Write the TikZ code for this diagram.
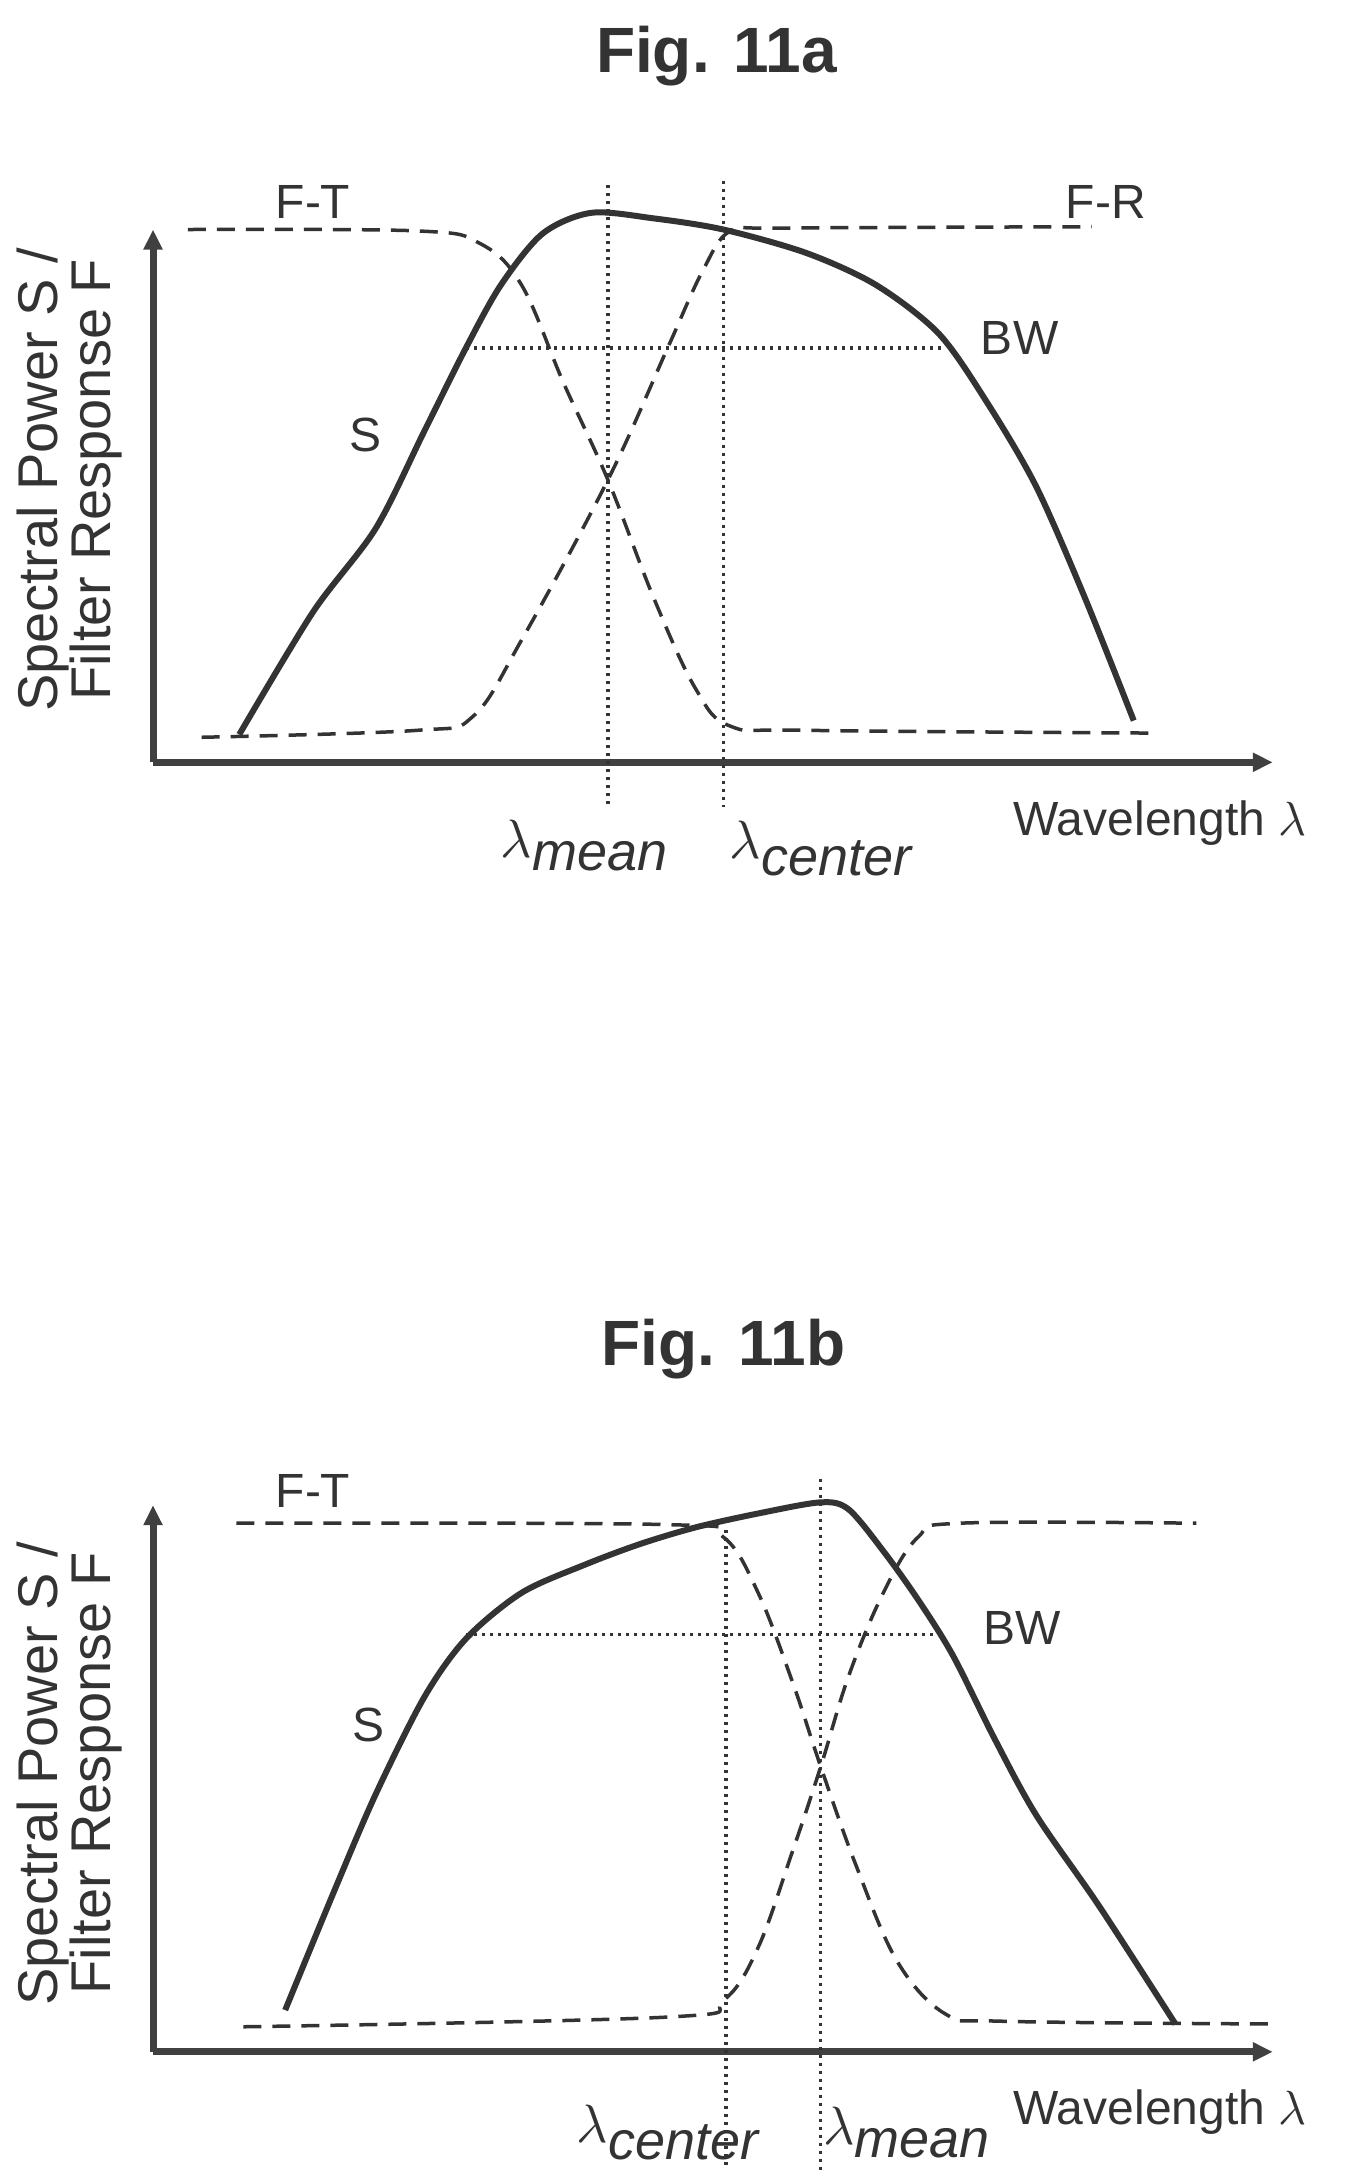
\documentclass[tikz,border=0pt]{standalone}
\usepackage{fontspec}
\usepackage{unicode-math}
\setmainfont{Liberation Sans}
\setmathfont{Latin Modern Math}
\usetikzlibrary{arrows.meta}
\begin{document}
\begin{tikzpicture}[x=1.391pt,y=-1.391pt,
  ax/.style={line width=7pt,color=black!75,-{Triangle[length=20pt,width=18pt]}},
  scurve/.style={line width=6pt,color=black!80,line join=round},
  fdash/.style={line width=3.5pt,color=black!80,dash pattern=on 18pt off 11pt},
  fdot/.style={line width=3.5pt,color=black!80,dash pattern=on 3pt off 5pt},
  lbl/.style={font=\fontsize{48}{50}\selectfont,color=black!80},
  ttl/.style={font=\bfseries\fontsize{64}{66}\selectfont,color=black!80},
  ylbl/.style={font=\fontsize{56}{50}\selectfont,color=black!80,rotate=90,align=center},
  mlbl/.style={font=\fontsize{54}{60}\selectfont,color=black!80}]
\newcommand{\lsub}[1]{$\lambda_{\textstyle\mathit{#1}}$}
\useasboundingbox (0,0) rectangle (970,1565);
% ---------- Fig 11a
\node[ttl] (t1) at (515,40) {Fig. 11a};
\coordinate (o1) at (110,548);
\coordinate (y1) at (110,165);
\coordinate (x1) at (915,548);
\draw[ax] (o1) -- (y1);
\draw[ax] (o1) -- (x1);
\draw[fdash] plot[smooth,tension=0.6] coordinates {(135,165) (300,166) (345,175) (375,205) (405,275) (437,345) (470,430) (500,495) (525,522) (580,525) (830,527)};
\draw[fdash] plot[smooth,tension=0.6] coordinates {(145,530) (300,525) (340,515) (375,460) (437,345) (480,250) (505,195) (525,166) (560,164) (785,163)};
\draw[scurve] plot[smooth,tension=0.5] coordinates {(172,528) (225,440) (270,380) (305,310) (335,250) (360,205) (390,168) (425,153) (470,157) (520,165) (580,182) (630,205) (675,240) (710,290) (745,350) (780,430) (815,518)};
\draw[fdot] (335,250) -- (680,250);
\draw[fdot] (437,133) -- (437,580);
\draw[fdot] (520,130) -- (520,580);
\node[lbl] (ft1) at (225,145) {F-T};
\node[lbl] (fr1) at (795,145) {F-R};
\node[lbl] (bw1) at (733,243) {BW};
\node[lbl] (s1) at (263,313) {S};
\node[lbl,anchor=west] (w1) at (726,592) {Wavelength $\lambda$};
\node[mlbl] (lm1) at (420,608) {\lsub{mean}};
\node[mlbl] (lc1) at (590,610) {\lsub{center}};
\node[ylbl] (ya) at (50,345) {Spectral Power S /\\Filter Response F};
% ---------- Fig 11b
\node[ttl] (t2) at (520,970) {Fig. 11b};
\coordinate (o2) at (110,1475);
\coordinate (y2) at (110,1082);
\coordinate (x2) at (915,1475);
\draw[ax] (o2) -- (y2);
\draw[ax] (o2) -- (x2);
\draw[fdash] plot[smooth,tension=0.6] coordinates {(170,1095) (480,1096) (520,1105) (545,1145) (570,1210) (590,1270) (615,1340) (645,1410) (680,1448) (720,1453) (915,1455)};
\draw[fdash] plot[smooth,tension=0.6] coordinates {(175,1457) (480,1450) (520,1438) (545,1400) (570,1330) (590,1270) (610,1205) (635,1145) (660,1105) (690,1095) (860,1095)};
\draw[scurve] plot[smooth,tension=0.5] coordinates {(205,1445) (240,1360) (270,1290) (305,1220) (335,1178) (375,1145) (420,1125) (460,1110) (500,1098) (545,1088) (590,1080) (610,1085) (635,1115) (660,1150) (685,1190) (715,1250) (745,1305) (790,1370) (845,1455)};
\draw[fdot] (335,1175) -- (680,1175);
\draw[fdot] (522,1100) -- (522,1560);
\draw[fdot] (590,1063) -- (590,1560);
\node[lbl] (ft2) at (225,1072) {F-T};
\node[lbl] (bw2) at (735,1170) {BW};
\node[lbl] (s2) at (265,1240) {S};
\node[lbl,anchor=west] (w2) at (726,1518) {Wavelength $\lambda$};
\node[mlbl] (lc2) at (480,1533) {\lsub{center}};
\node[mlbl] (lm2) at (652,1533) {\lsub{mean}};
\node[ylbl] (yb) at (50,1275) {Spectral Power S /\\Filter Response F};
\end{tikzpicture}
\end{document}
